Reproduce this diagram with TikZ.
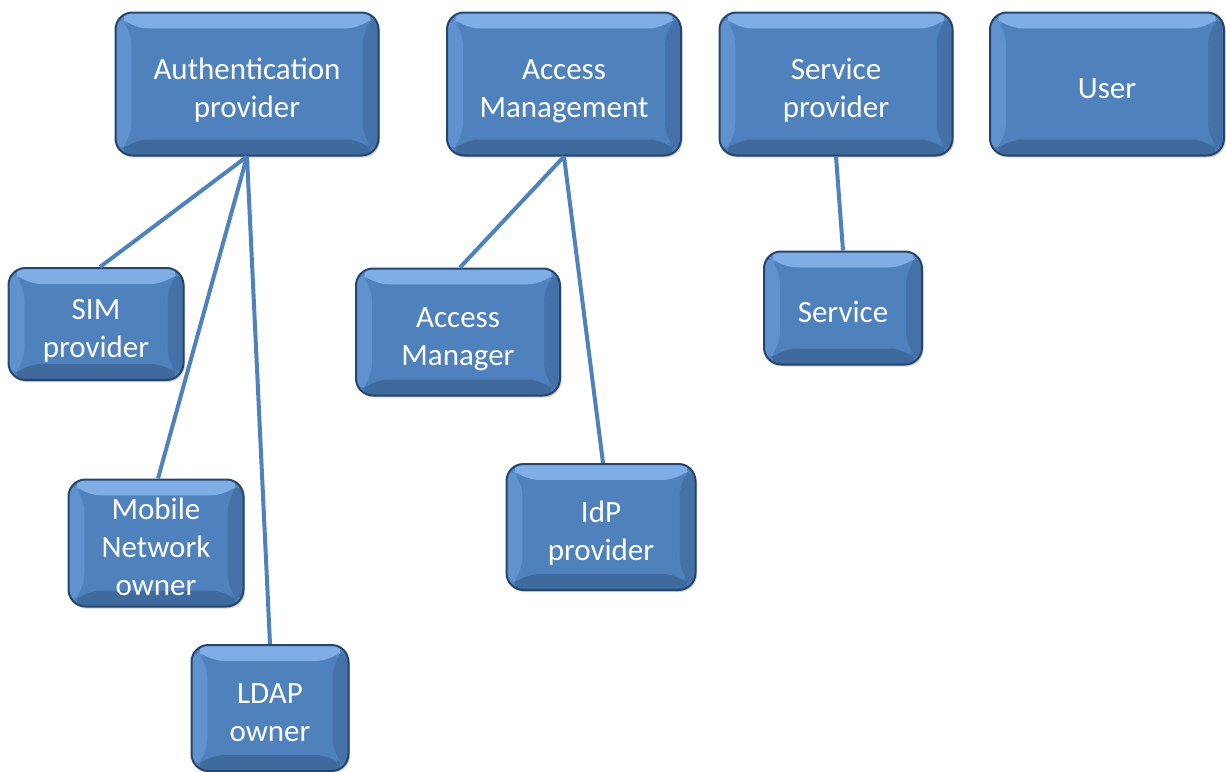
\documentclass[tikz,border=0pt]{standalone}
\usepackage{fontspec}
\setmainfont{Carlito}
\usetikzlibrary{shadows}
\definecolor{base}{HTML}{4F81BD}
\definecolor{edge}{HTML}{27446B}
\definecolor{toplight}{HTML}{7FAEE6}
\definecolor{sidelight}{HTML}{5F92CF}
\definecolor{sidedark}{HTML}{4472A8}
\definecolor{botdark}{HTML}{3F6A9E}
\definecolor{lineblue}{HTML}{4F81BD}
\newcommand{\boxfont}{\fontsize{31pt}{38pt}\selectfont}
\newcommand{\bx}[1]{\raisebox{-7pt}[\height][\depth]{\begin{tabular}{@{}c@{}}#1\end{tabular}}}
\tikzset{
  box/.style={rounded corners=17pt, fill=base, draw=edge, line width=2pt,
    text=white, font=\boxfont, inner sep=0pt,
    drop shadow={opacity=0.35, shadow xshift=1.5pt, shadow yshift=-2pt},
    path picture={
      \def\bb{path picture bounding box}
      \fill[toplight] (\bb.north west) -- (\bb.north east) -- ([shift={(-16pt,-16pt)}]\bb.north east) -- ([shift={(16pt,-16pt)}]\bb.north west) -- cycle;
      \fill[sidelight] (\bb.north west) -- ([shift={(16pt,-16pt)}]\bb.north west) -- ([shift={(16pt,16pt)}]\bb.south west) -- (\bb.south west) -- cycle;
      \fill[sidedark] (\bb.north east) -- ([shift={(-16pt,-16pt)}]\bb.north east) -- ([shift={(-16pt,16pt)}]\bb.south east) -- (\bb.south east) -- cycle;
      \fill[botdark] (\bb.south west) -- ([shift={(16pt,16pt)}]\bb.south west) -- ([shift={(-16pt,16pt)}]\bb.south east) -- (\bb.south east) -- cycle;
      \fill[base] ([shift={(16pt,16pt)}]\bb.south west) rectangle ([shift={(-16pt,-16pt)}]\bb.north east);
    }},
  link/.style={draw=lineblue, line width=4pt}
}
\begin{document}
\begin{tikzpicture}[x=1pt, y=-1pt]
\useasboundingbox (0,0) rectangle (1226,771);
\node[box, minimum width=263pt, minimum height=143pt] (auth) at (247,84) {\bx{Authentication\\provider}};
\node[box, minimum width=234pt, minimum height=143pt] (accm) at (564,84) {\bx{Access\\Management}};
\node[box, minimum width=233pt, minimum height=143pt] (serp) at (836,84) {\bx{Service\\provider}};
\node[box, minimum width=234pt, minimum height=143pt] (user) at (1107,84) {\bx{User}};
\node[box, minimum width=175pt, minimum height=112pt] (sim) at (96,324) {\bx{SIM\\provider}};
\node[box, minimum width=175pt, minimum height=127pt] (mno) at (156,543) {\bx{Mobile\\Network\\owner}};
\node[box, minimum width=157pt, minimum height=126pt] (ldap) at (270,708) {\bx{LDAP\\owner}};
\node[box, minimum width=204pt, minimum height=127pt] (amgr) at (458,332) {\bx{Access\\Manager}};
\node[box, minimum width=189pt, minimum height=126pt] (idp) at (601,527) {\bx{IdP\\provider}};
\node[box, minimum width=158pt, minimum height=113pt] (serv) at (843,308) {\bx{Service}};
\draw[link] (auth.south) -- (sim.north -| 100,0);
\draw[link] (auth.south) -- (mno.north -| 158,0);
\draw[link] (auth.south) -- (ldap.north);
\draw[link] (accm.south) -- (amgr.north -| 460,0);
\draw[link] (accm.south) -- (idp.north -| 603,0);
\draw[link] (serp.south) -- (serv.north);
\end{tikzpicture}
\end{document}
